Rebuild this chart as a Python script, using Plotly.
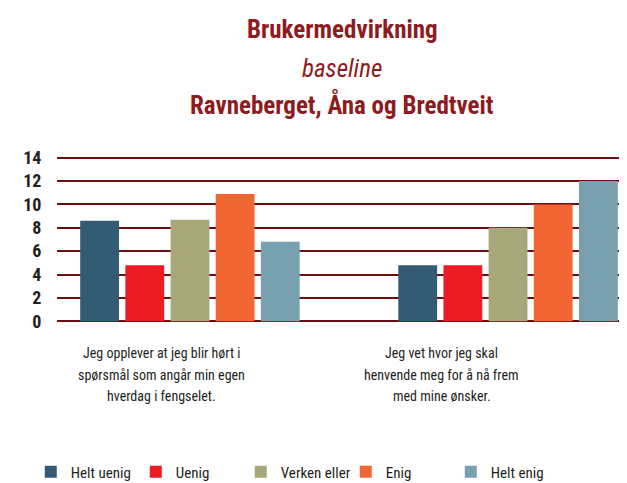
import plotly.graph_objects as go

categories = [
    "Jeg opplever at jeg blir hørt i<br>spørsmål som angår min egen<br>hverdag i fengselet.",
    "Jeg vet hvor jeg skal<br>henvende meg for å nå frem<br>med mine ønsker.",
]
series_names = ["Helt uenig", "Uenig", "Verken eller", "Enig", "Helt enig"]
helt_uenig = [8.6, 4.8]
uenig = [4.8, 4.8]
verken_eller = [8.7, 8.0]
enig = [10.9, 10.0]
helt_enig = [6.8, 12.0]
y_ticks = [0, 2, 4, 6, 8, 10, 12, 14]

colors = ["#335b74", "#ed1c24", "#a7a77a", "#f26633", "#78a0ae"]
values = [helt_uenig, uenig, verken_eller, enig, helt_enig]

FONT = "Roboto Condensed, DejaVu Sans Condensed, sans-serif"
RED = "#8e1b20"
INK = "#231f20"

fig = go.Figure()
for name, vals, col in zip(series_names, values, colors):
    fig.add_trace(go.Bar(
        x=[0, 1], y=vals, name=name,
        marker=dict(color=col, line=dict(width=0)),
    ))

# page has an 8px body margin, so the figure is 8px smaller than the window
# y range padded a little so the gridlines at 0 and 14 are not dropped at the edges
fig.update_layout(
    width=619, height=475,
    margin=dict(l=49, r=0, t=148, b=160, autoexpand=False),
    paper_bgcolor="white", plot_bgcolor="white",
    barmode="group", bargap=0.29, bargroupgap=0.14,
    font=dict(family=FONT, color=INK),
    xaxis=dict(range=[-0.418, 1.374], showticklabels=False, showgrid=False,
               zeroline=False, fixedrange=True),
    yaxis=dict(range=[-0.15, 14.15], tickvals=y_ticks, showgrid=True,
               gridcolor="#6d0f12", gridwidth=2, zeroline=False,
               ticks="outside", ticklen=11, tickcolor="white",
               tickfont=dict(size=18, family=FONT, color=INK, weight="bold")),
    showlegend=True,
    legend=dict(orientation="h", x=-0.046, xanchor="left", y=-0.892, yanchor="middle",
                font=dict(size=15, family=FONT, color=INK),
                entrywidth=60, entrywidthmode="pixels", itemwidth=30,
                traceorder="normal"),
)

# titles
titles = [
    ("<b>Brukermedvirkning</b>", 1.760, 25),
    ("<i>baseline</i>", 1.521, 25),
    ("<b>Ravneberget, Åna og Bredtveit</b>", 1.311, 25),
]
for txt, yy, sz in titles:
    fig.add_annotation(text=txt, x=0.5, y=yy, xref="paper", yref="paper",
                       xanchor="center", yanchor="middle", showarrow=False,
                       font=dict(size=sz, family=FONT, color=RED))

# category labels, one annotation per line to get the wider line spacing
label_x = [0.184, 0.675]
line_y = [-0.18, -0.311, -0.437]
for txt, xx in zip(categories, label_x):
    for line, yy in zip(txt.split("<br>"), line_y):
        fig.add_annotation(text=line, x=xx, y=yy, xref="paper", yref="paper",
                           xanchor="center", yanchor="middle", showarrow=False,
                           font=dict(size=14, family=FONT, color=INK))

fig.write_html("out.html")
